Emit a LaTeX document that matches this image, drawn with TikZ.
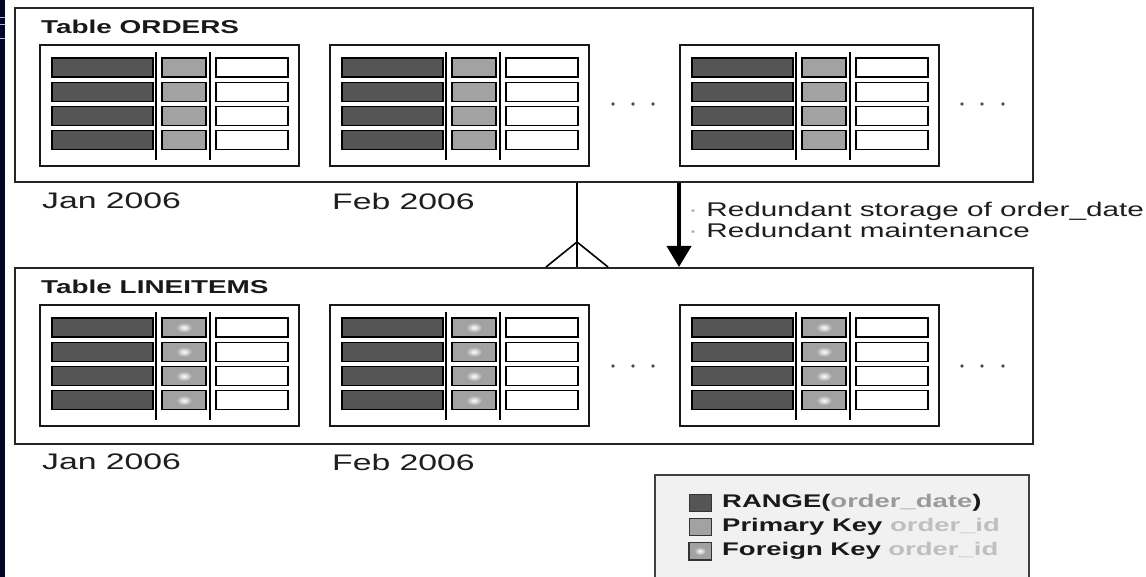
\documentclass[tikz,border=0pt]{standalone}
\usepackage{fontspec}
\setmainfont{Liberation Sans}[FakeStretch=1.5]
\usetikzlibrary{arrows.meta}
\definecolor{slidenavy}{HTML}{050528}
\definecolor{rangegray}{HTML}{555555}
\definecolor{keygray}{HTML}{A2A2A2}
\definecolor{legendbg}{HTML}{F1F1F1}
\definecolor{textgray}{HTML}{1E1E1E}
\tikzset{
  outerbox/.style={draw=black!85, line width=2pt, fill=none, inner sep=0pt, anchor=north west},
  tframe/.style={draw=black!90, line width=1.6pt, fill=white},
  darkcell/.style={draw=black, line width=1.1pt, fill=rangegray},
  pkcell/.style={draw=black, line width=1.1pt, fill=keygray},
  whitecell/.style={draw=black, line width=1.1pt, fill=white},
  vsep/.style={draw=black, line width=2.4pt},
  title/.style={font=\bfseries\fontsize{18.6}{20}\selectfont, text=black!90, anchor=west, inner sep=0pt},
  month/.style={font=\fontsize{22.5}{24}\selectfont, text=textgray, anchor=west, inner sep=0pt},
  note/.style={font=\fontsize{19.8}{24}\selectfont, text=textgray, anchor=west, inner sep=0pt, align=left},
  legtext/.style={font=\bfseries\fontsize{18.3}{20}\selectfont, text=black!90, anchor=west, inner sep=0pt},
  legsq/.style={draw=black!80, line width=1pt, minimum width=22pt, minimum height=17pt, inner sep=0pt},
  dot/.style={fill=black!70},
  link/.style={draw=black, line width=1.6pt},
  bigarrow/.style={draw=black, line width=4pt, -{Triangle[width=24pt,length=21pt]}}
}
% one partitioned table: four rows of (range, key, payload) cells
\newcommand\parttable[3]{%
  \begin{scope}[shift={(#1,#2)}]
    \draw[tframe] (0,0) rectangle (259,121);
    \foreach \i in {0,...,3}{
      \pgfmathsetmacro\rt{13+24.3*\i}
      \draw[darkcell] (12,\rt) rectangle ++(101,19);
      \draw[pkcell] (122,\rt) rectangle ++(44,19);
      \ifnum#3=1
        \shade[inner color=white, outer color=keygray] (144,\rt+9.5) ellipse (8pt and 5pt);
      \fi
      \draw[whitecell] (176,\rt) rectangle ++(72,19);
    }
    \draw[vsep] (116,7) -- (116,115);
    \draw[vsep] (170,7) -- (170,115);
  \end{scope}}
\begin{document}
\begin{tikzpicture}[x=1pt, y=-1pt]
  \useasboundingbox (0,0) rectangle (1146,577);
  \fill[white] (0,0) rectangle (1146,577);
  % slide edge on the left
  \fill[slidenavy] (0,0) rectangle (5,577);
  \draw[blue!30!white, line width=0.8pt] (0,17) -- (5,17) (0,24) -- (5,24) (0,38) -- (5,38);

  % ORDERS
  \node[outerbox, minimum width=1018pt, minimum height=174pt] (orders) at (14,7) {};
  \node[title] (ordtitle) at (41,27) {Table ORDERS};
  \parttable{40}{45}{0}
  \parttable{330}{45}{0}
  \parttable{680}{45}{0}
  \foreach \dx in {613,633,653,962,982,1003} \fill[dot] (\dx,104) circle (1.8pt);
  \node[month] (ojan) at (42,201) {Jan 2006};
  \node[month] (ofeb) at (332,201) {Feb 2006};

  % LINEITEMS
  \node[outerbox, minimum width=1018pt, minimum height=176pt] (items) at (14,267) {};
  \node[title] (itmtitle) at (41,287) {Table LINEITEMS};
  \parttable{40}{305}{1}
  \parttable{330}{305}{1}
  \parttable{680}{305}{1}
  \foreach \dx in {613,633,653,962,982,1003} \fill[dot] (\dx,366) circle (1.8pt);
  \node[month] (ijan) at (42,462) {Jan 2006};
  \node[month] (ifeb) at (332,462) {Feb 2006};

  % one-to-many relation (crow's foot)
  \coordinate (relx) at (577,0);
  \coordinate (crow) at (577,242);
  \draw[link] (orders.south -| relx) -- (items.north -| relx);
  \draw[link] (crow) -- (items.north -| 546,0);
  \draw[link] (crow) -- (items.north -| 608,0);

  % redundancy arrow
  \coordinate (arrx) at (679,0);
  \draw[bigarrow] (orders.south -| arrx) -- (items.north -| arrx);
  \node[note] (why) at (688,220) {{\color{black!35}·} Redundant storage of order\_date\\[-3pt]{\color{black!35}·} Redundant maintenance};

  % legend
  \filldraw[fill=legendbg, draw=black!75, line width=1.4pt] (655,580) -- (655,475) -- (1029,475) -- (1029,580);
  \node[legsq, fill=rangegray] (lrange) at (700,503) {};
  \node[legsq, fill=keygray] (lpk) at (700,527) {};
  \node[legsq, fill=keygray] (lfk) at (700,551) {};
  \shade[inner color=white, outer color=keygray] (lfk.center) ellipse (6pt and 4pt);
  \draw[draw=black!80, line width=1pt] (lfk.south west) rectangle (lfk.north east);
  \node[legtext] (trange) at (722,503) {RANGE({\color{black!40}order\_date})};
  \node[legtext] (tpk) at (722,527) {Primary Key {\color{black!25}order\_id}};
  \node[legtext] (tfk) at (722,551) {Foreign Key {\color{black!25}order\_id}};
\end{tikzpicture}
\end{document}
